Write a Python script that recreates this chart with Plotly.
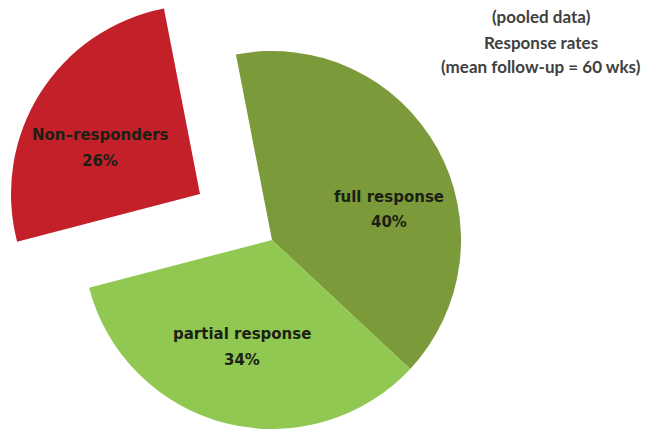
import plotly.graph_objects as go

# Response categories and their pooled shares (%)
categories = ["full response", "partial response", "Non-responders"]
shares = [40, 34, 26]
slice_colors = ["#7B9A3A", "#90C851", "#C3202A"]
title_lines = ["(pooled data)", "Response rates", "(mean follow-up = 60 wks)"]

W, H = 648, 429
CLEAR = "rgba(0,0,0,0)"
RADIUS = 189
main_center = (272, 240)      # centre of the pie body (px)
detached_center = (200, 194)  # centre of the detached Non-responders wedge (px)


def domain_for(center, r):
    cx, cy = center
    return dict(
        x=[(cx - r) / W, (cx + r) / W],
        y=[max(0.0, 1 - (cy + r) / H), min(1.0, 1 - (cy - r) / H)],
    )


def px(x, y):
    return x / W, 1 - y / H


pie_common = dict(
    labels=categories,
    values=shares,
    sort=False,
    direction="clockwise",
    rotation=-11,
    textinfo="none",
    hoverinfo="label+percent",
    showlegend=False,
)

fig = go.Figure()
# Body of the pie: full + partial response
fig.add_trace(go.Pie(
    **pie_common,
    domain=domain_for(main_center, RADIUS),
    marker=dict(colors=[slice_colors[0], slice_colors[1], CLEAR], line=dict(width=0)),
))
# Exploded wedge: Non-responders
fig.add_trace(go.Pie(
    **pie_common,
    domain=domain_for(detached_center, RADIUS),
    marker=dict(colors=[CLEAR, CLEAR, slice_colors[2]], line=dict(width=0)),
))

label_font = dict(family="DejaVu Sans", size=15, color="#1b1f14")
label_pos = {
    "full response": (389, 197, 222),
    "partial response": (242, 334, 360),
    "Non-responders": (100, 135, 161),
}
annotations = []
for name, share in zip(categories, shares):
    x, y1, y2 = label_pos[name]
    for text, y in ((f"<b>{name.replace('-', '–')}</b>", y1), (f"<b>{share}%</b>", y2)):
        ax, ay = px(x, y)
        annotations.append(dict(
            text=text, x=ax, y=ay, xref="paper", yref="paper",
            xanchor="center", yanchor="middle", showarrow=False, font=label_font,
        ))

title_font = dict(family="Lato", size=17, color="#404040")
for text, y in zip(title_lines, (17, 42, 66)):
    ax, ay = px(541, y)
    annotations.append(dict(
        text=f"<b>{text}</b>", x=ax, y=ay, xref="paper", yref="paper",
        xanchor="center", yanchor="middle", showarrow=False, font=title_font,
    ))

fig.update_layout(
    width=W, height=H,
    margin=dict(l=0, r=0, t=0, b=0),
    paper_bgcolor="white",
    plot_bgcolor="white",
    annotations=annotations,
)

fig.write_html("out.html")
